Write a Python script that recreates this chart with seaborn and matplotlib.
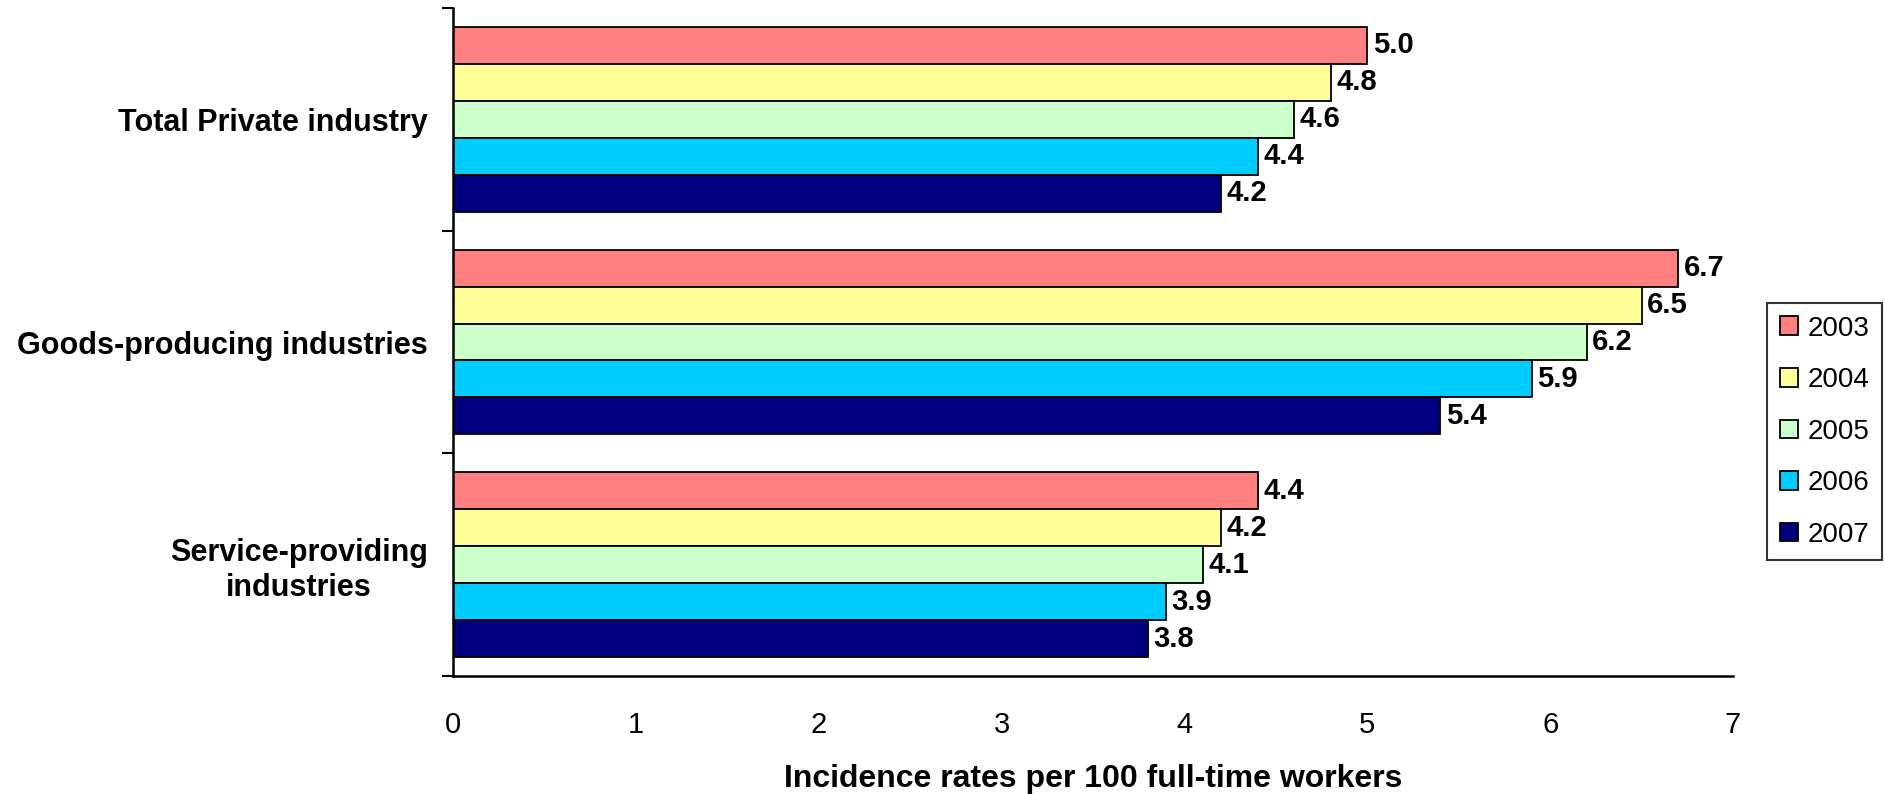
import pandas as pd
import matplotlib.pyplot as plt
import seaborn as sns

# data
industries = ["Total Private industry", "Goods-producing industries", "Service-providing\nindustries"]
years = ["2003", "2004", "2005", "2006", "2007"]
total_private = [5.0, 4.8, 4.6, 4.4, 4.2]
goods_producing = [6.7, 6.5, 6.2, 5.9, 5.4]
service_providing = [4.4, 4.2, 4.1, 3.9, 3.8]
year_colors = ["#FF8080", "#FFFF99", "#CCFFCC", "#00CCFF", "#000080"]

rows = []
for ind, vals in zip(industries, [total_private, goods_producing, service_providing]):
    for yr, v in zip(years, vals):
        rows.append({"industry": ind, "year": yr, "rate": v})
df = pd.DataFrame(rows)

sns.set_style("white")
plt.rcParams['font.family'] = ['Liberation Sans', 'DejaVu Sans']
plt.rcParams['text.color'] = 'black'
plt.rcParams['axes.labelcolor'] = 'black'
plt.rcParams['xtick.color'] = 'black'
plt.rcParams['ytick.color'] = 'black'

fig = plt.figure(figsize=(18.85, 7.94), dpi=100)
ax = fig.add_axes([0.2403, 0.1486, 0.9194 - 0.2403, 0.9899 - 0.1486])

sns.barplot(data=df, x="rate", y="industry", hue="year", orient="h",
            palette=year_colors, saturation=1, width=0.83, edgecolor="black", linewidth=1.3,
            order=industries, hue_order=years, ax=ax)

for cont in ax.containers:
    ax.bar_label(cont, fmt="%.1f", padding=4, fontsize=21, fontweight="bold")

ax.set_xlim(0, 7)
ax.set_ylim(2.5, -0.5)
ax.set_xticks(range(0, 8))
ax.tick_params(axis="x", labelsize=21, length=8, width=1.5, pad=17, direction="out")

# category ticks sit between groups, labels at group centres
ax.set_yticks([-0.5, 0.5, 1.5, 2.5], minor=True)
ax.tick_params(axis="y", which="minor", length=8, width=1.5, direction="out", left=True)
ax.tick_params(axis="y", which="major", length=0, pad=18)
ax.set_yticklabels(industries, fontsize=22, fontweight="bold", multialignment="center")

ax.set_xlabel("Incidence rates per 100 full-time workers", fontsize=23, fontweight="bold", labelpad=18)
ax.set_ylabel("")

for side in ["top", "right"]:
    ax.spines[side].set_visible(False)
for side in ["left", "bottom"]:
    ax.spines[side].set_color("black")
    ax.spines[side].set_linewidth(1.8)

leg = ax.legend(title=None, loc="upper right", bbox_to_anchor=(1882 / 1885, 1 - 303 / 794),
                bbox_transform=fig.transFigure, fontsize=20,
                frameon=True, fancybox=False, edgecolor="black", handlelength=0.65,
                handleheight=0.65, handletextpad=0.35, labelspacing=0.92, borderpad=0.45,
                borderaxespad=0)
leg.get_frame().set_linewidth(1.5)

fig.savefig("out.png", dpi=100)
